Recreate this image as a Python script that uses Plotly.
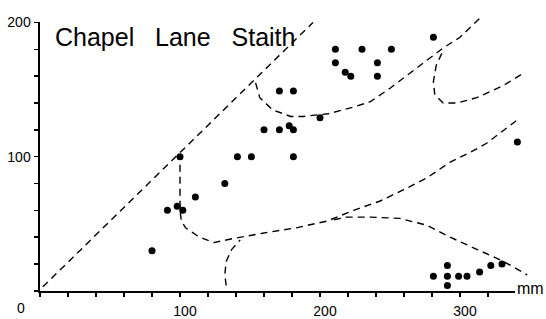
import plotly.graph_objects as go

# ---- data ----
pt_x = [80, 91, 98, 102, 100, 111, 132, 141, 151, 181, 160, 171, 178, 181, 171, 181,
        200, 211, 230, 251, 211, 241, 218, 222, 241, 281, 341,
        281, 291, 299, 305, 291, 291, 314, 322, 330]
pt_y = [30, 60, 63, 60, 100, 70, 80, 100, 100, 100, 120, 120, 123, 120, 149, 149,
        129, 180, 180, 180, 170, 170, 163, 160, 160, 189, 111,
        11, 11, 11, 11, 19, 4, 14, 19, 20]

diag_x = [2, 195]
diag_y = [3, 200]

upper_x = [154, 157, 166, 179, 188, 206, 224, 236, 250, 264, 276, 288, 300, 314]
upper_y = [155, 144, 135, 130, 130, 132, 137, 141, 151, 162, 171, 181, 189, 203]

branch_x = [287, 283, 281, 282, 288, 298, 312, 331, 345]
branch_y = [177, 168, 156, 146, 140, 140, 144, 153, 162]

middle_x = [100, 100, 101, 104, 114, 124, 138, 159, 183, 205, 224, 243, 259, 276, 293, 307, 319, 343]
middle_y = [94, 60, 52, 47, 40, 36, 39, 43, 47, 52, 60, 67, 75, 84, 96, 103, 110, 129]

lowstem_x = [133, 132, 133, 137, 143]
lowstem_y = [4, 12, 22, 31, 38]

lower_x = [210, 219, 236, 257, 276, 293, 312, 331, 348]
lower_y = [53, 55, 55, 54, 49, 40, 31, 22, 12]

x_ticks = list(range(0, 340, 20))
x_labels = ["100" if v == 100 else "200" if v == 200 else "300" if v == 300 else "" for v in x_ticks]
y_ticks = list(range(0, 201, 20))
y_labels = ["100" if v == 100 else "200" if v == 200 else "" for v in y_ticks]

title_text = "Chapel\u00a0\u00a0\u00a0Lane\u00a0\u00a0\u00a0Staith"
unit_text = "mm"
origin_text = "0"

FONT = "Liberation Sans, Arial, Helvetica, sans-serif"
W, H = 546, 319

fig = go.Figure()

dash_line = dict(color="black", width=1.4, dash="7px,5px")
for lx, ly in [(diag_x, diag_y), (upper_x, upper_y), (branch_x, branch_y),
               (middle_x, middle_y), (lowstem_x, lowstem_y), (lower_x, lower_y)]:
    fig.add_trace(go.Scatter(x=lx, y=ly, xaxis="x2", yaxis="y2", mode="lines",
                             line=dash_line, hoverinfo="skip", showlegend=False))

fig.add_trace(go.Scatter(x=pt_x, y=pt_y, xaxis="x2", yaxis="y2", mode="markers",
                         marker=dict(color="black", size=7),
                         cliponaxis=False, showlegend=False))

# empty trace so the visible axes are drawn
fig.add_trace(go.Scatter(x=[None], y=[None], mode="markers", showlegend=False,
                         hoverinfo="skip"))

fig.update_layout(
    width=W, height=H,
    margin=dict(l=0, r=0, t=0, b=0),
    paper_bgcolor="white",
    plot_bgcolor="rgba(0,0,0,0)",
    font=dict(family=FONT, color="black", size=13),
    xaxis=dict(domain=[40 / W, 515 / W], range=[0, 475 / 1.4], anchor="y",
               showline=True, linewidth=2, linecolor="black",
               ticks="outside", ticklen=4, tickwidth=1.5, tickcolor="black",
               tickvals=x_ticks, ticktext=x_labels, ticklabelshift=5,
               ticklabelstandoff=2,
               showgrid=False, zeroline=False, tickfont=dict(size=14)),
    yaxis=dict(domain=[26 / H, 304 / H], range=[0, 200], anchor="x",
               showline=True, linewidth=2.5, linecolor="black",
               ticks="outside", ticklen=4, tickwidth=1.5, tickcolor="black",
               tickvals=y_ticks, ticktext=y_labels,
               showgrid=False, zeroline=False, tickfont=dict(size=14)),
    xaxis2=dict(domain=[0, 1], range=[-40 / 1.4, 506 / 1.4], anchor="y2", visible=False),
    yaxis2=dict(domain=[0, 1], range=[-26 / 1.39, 293 / 1.39], anchor="x2", visible=False),
    annotations=[
        dict(text=title_text, xref="paper", yref="paper", x=53 / W, y=(H - 13) / H,
             xanchor="left", yanchor="top", showarrow=False, font=dict(size=25)),
        dict(text=unit_text, xref="paper", yref="paper", x=515 / W, y=(H - 290) / H,
             xanchor="left", yanchor="middle", showarrow=False, font=dict(size=16)),
        dict(text=origin_text, xref="paper", yref="paper", x=21 / W, y=(H - 311) / H,
             xanchor="center", yanchor="middle", showarrow=False, font=dict(size=14)),
    ],
)

fig.write_html(
    "out.html",
    config={"displayModeBar": False, "staticPlot": True},
    post_script="document.body.style.margin='0';document.body.style.padding='0';"
                "document.body.style.overflow='hidden';",
)
